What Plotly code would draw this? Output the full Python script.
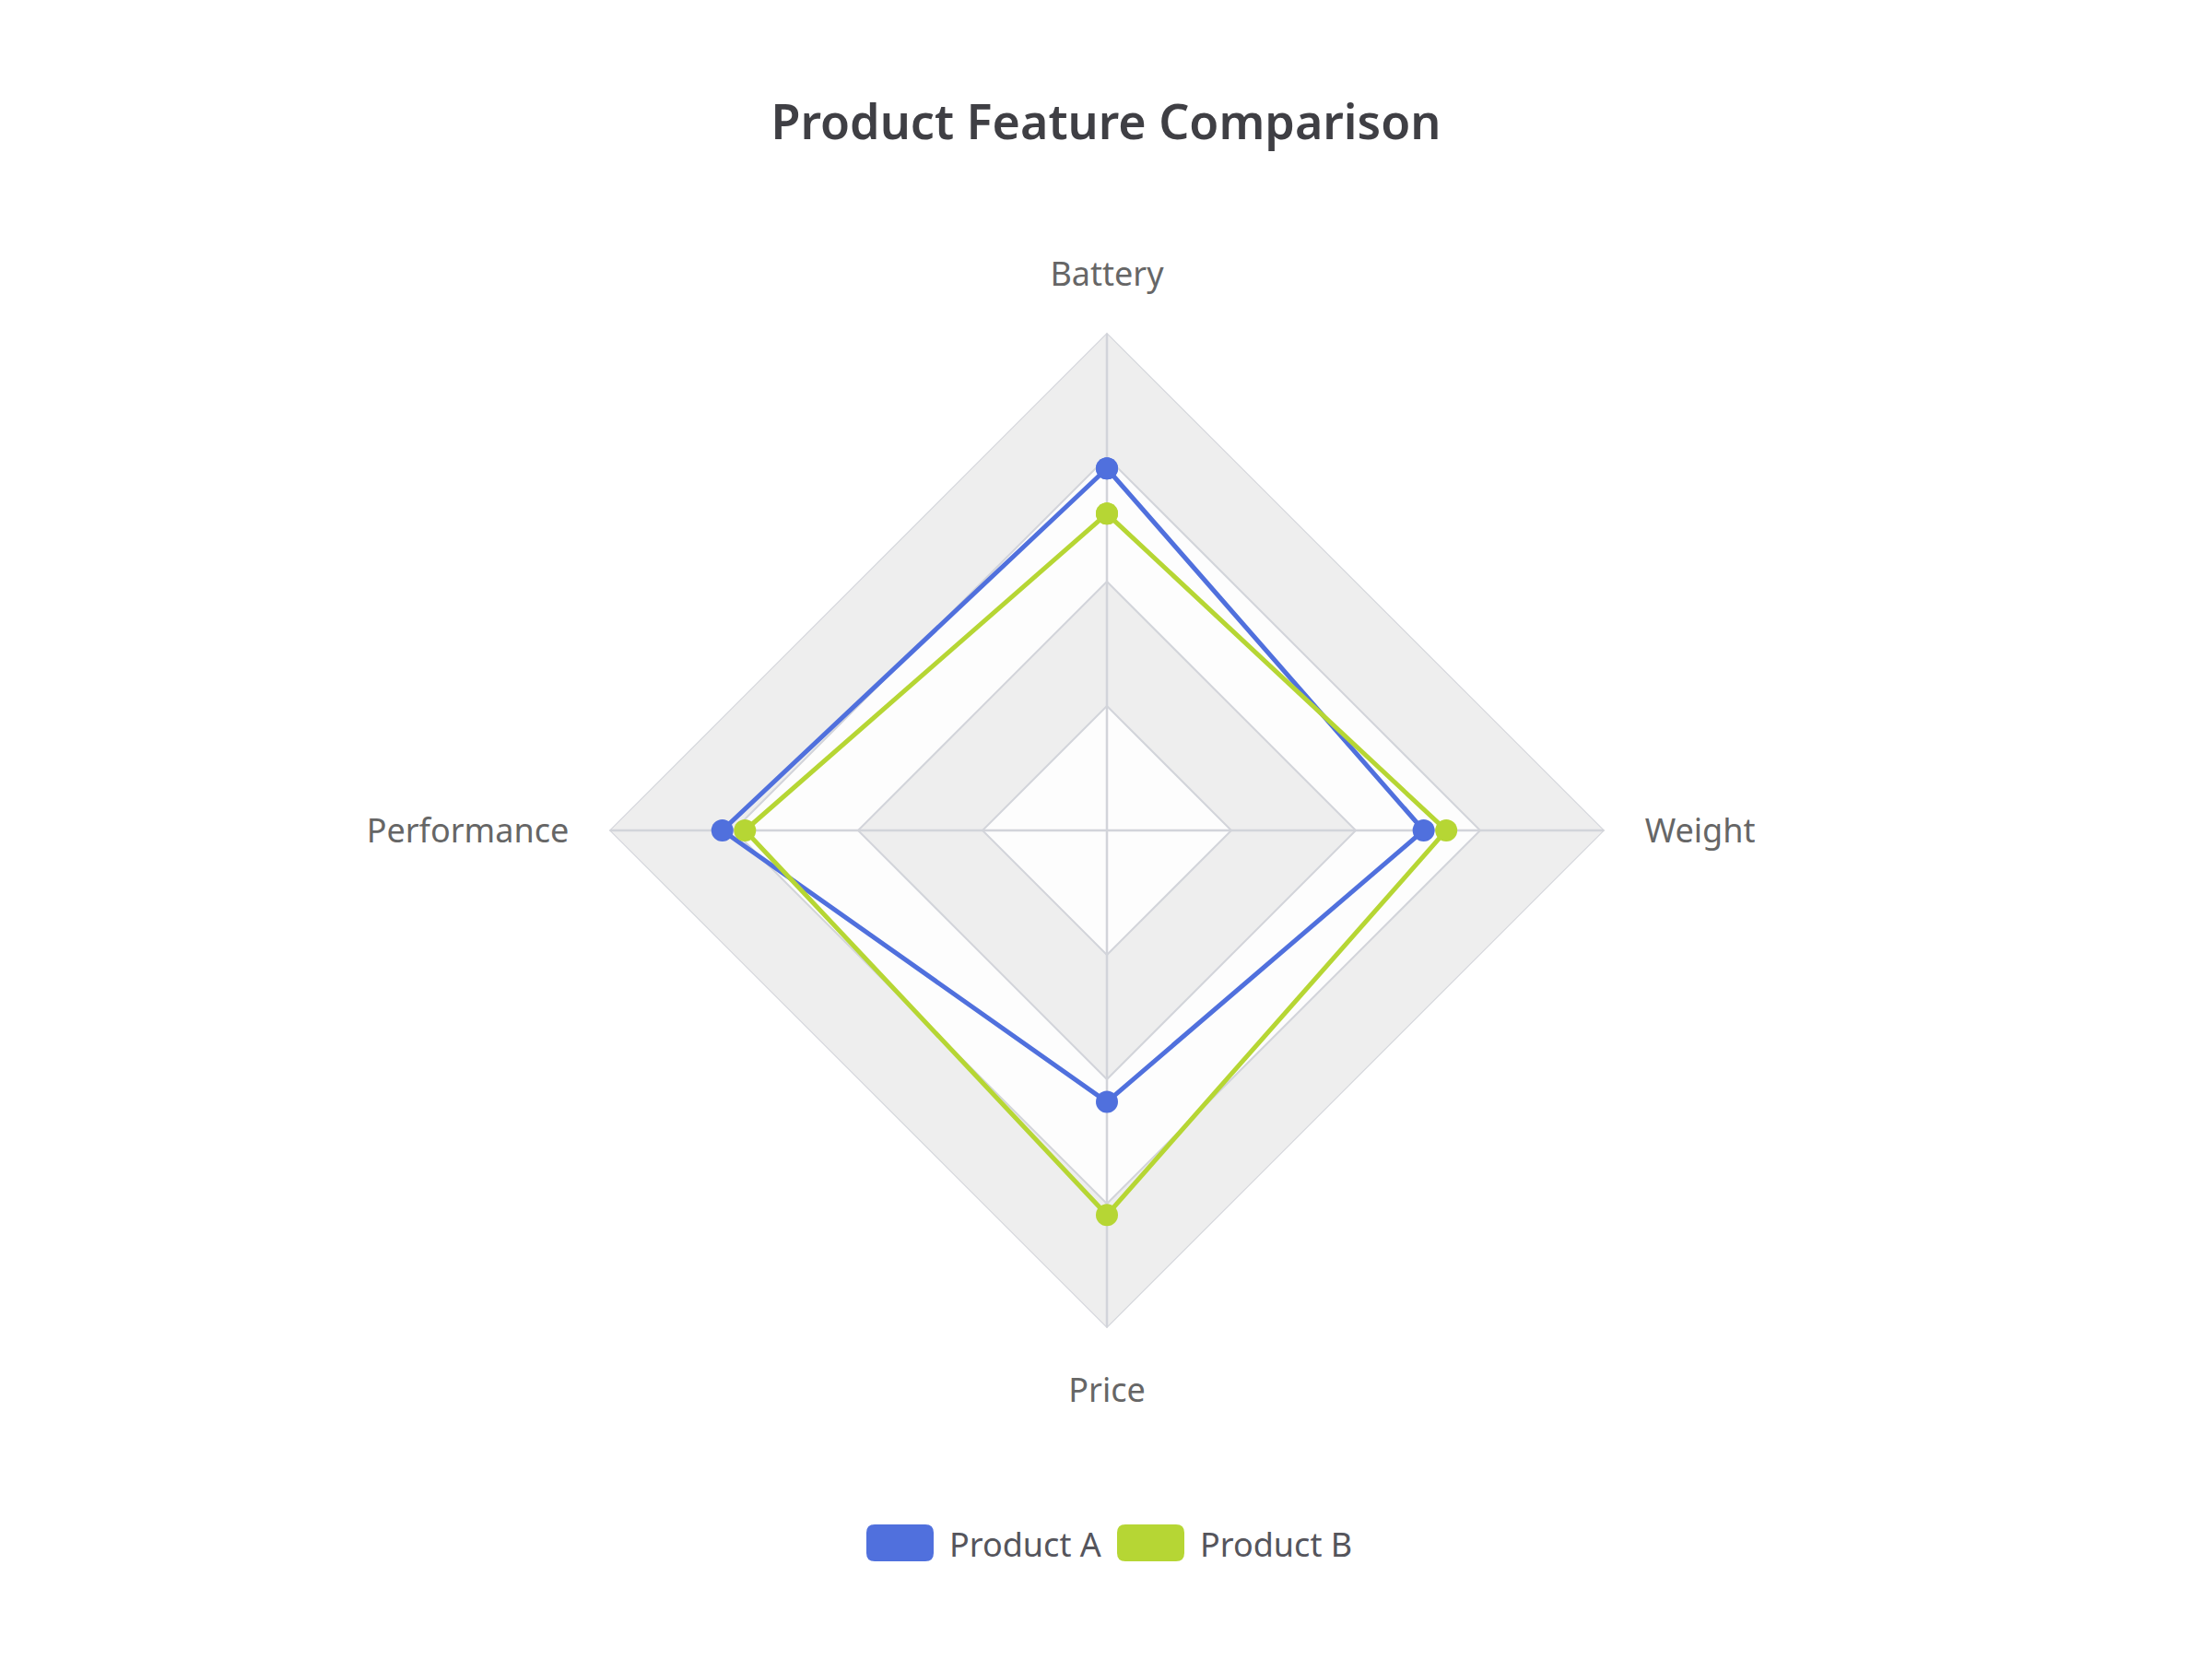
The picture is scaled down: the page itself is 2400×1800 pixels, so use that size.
import plotly.graph_objects as go

# ---- data ----
categories = ["Battery", "Performance", "Price", "Weight"]
product_a = [80, 85, 60, 70]
product_b = [70, 80, 85, 75]
series_names = ["Product A", "Product B"]
radial_max = 110
ring_levels = [110, 82.5, 55, 27.5]

# ---- styles ----
COLOR_A = "#5070dd"
COLOR_B = "#b6d634"
RING_FILLS = ["#eeeeee", "#fdfdfd", "#eeeeee", "#fdfdfd"]
GRID = "#d2d4da"
FONT = "Noto Sans"

closed_theta = categories + [categories[0]]

fig = go.Figure()

# split areas (alternating ring fills) with ring outlines
for lvl, col in zip(ring_levels, RING_FILLS):
    fig.add_trace(go.Scatterpolar(
        r=[lvl] * len(closed_theta), theta=closed_theta,
        mode="lines", fill="toself", fillcolor=col,
        line=dict(color=GRID, width=2),
        hoverinfo="skip", showlegend=False))

# spokes
for c in categories:
    fig.add_trace(go.Scatterpolar(
        r=[0, radial_max], theta=[c, c], mode="lines",
        line=dict(color=GRID, width=2.5),
        hoverinfo="skip", showlegend=False))

for name, vals, col in [(series_names[0], product_a, COLOR_A),
                        (series_names[1], product_b, COLOR_B)]:
    fig.add_trace(go.Scatterpolar(
        r=vals + [vals[0]], theta=closed_theta, name=name,
        mode="lines+markers",
        line=dict(color=col, width=5),
        marker=dict(color=col, size=24),
        showlegend=False))

fig.update_layout(
    width=2400, height=1800,
    paper_bgcolor="white", plot_bgcolor="white",
    margin=dict(l=0, r=0, t=0, b=0),
    title=dict(text="Product Feature Comparison", x=0.5, xanchor="center",
               y=1 - 133 / 1800, yanchor="middle",
               font=dict(family=FONT, size=52, color="#3f3f44", weight=600)),
    polar=dict(
        domain=dict(x=[661 / 2400, 1741 / 2400], y=[359 / 1800, 1439 / 1800]),
        gridshape="linear",
        bgcolor="rgba(0,0,0,0)",
        radialaxis=dict(range=[0, radial_max], showgrid=False, showline=False,
                        showticklabels=False, ticks=""),
        angularaxis=dict(type="category", categoryarray=categories,
                         rotation=90, direction="counterclockwise",
                         showgrid=False, showline=False,
                         ticks="outside", ticklen=36, tickcolor="rgba(0,0,0,0)",
                         tickfont=dict(family=FONT, size=36, color="#666666")),
    ),
)

# manual legend with rounded-rect icons
def rounded_rect(x0, y0, x1, y1, rx, ry):
    return (f"M{x0+rx},{y0} L{x1-rx},{y0} Q{x1},{y0} {x1},{y0+ry} L{x1},{y1-ry} "
            f"Q{x1},{y1} {x1-rx},{y1} L{x0+rx},{y1} Q{x0},{y1} {x0},{y1-ry} "
            f"L{x0},{y0+ry} Q{x0},{y0} {x0+rx},{y0} Z")

W, H = 2400, 1800
legend_items = [(series_names[0], COLOR_A, 940), (series_names[1], COLOR_B, 1212)]
for name, col, x0 in legend_items:
    y0p, y1p = 1654, 1694
    fig.add_shape(type="path", xref="paper", yref="paper",
                  path=rounded_rect(x0 / W, 1 - y1p / H, (x0 + 73) / W, 1 - y0p / H,
                                    9 / W, 9 / H),
                  fillcolor=col, line=dict(width=0))
    fig.add_annotation(x=(x0 + 88) / W, y=1 - 1675 / H, xref="paper", yref="paper",
                       text=name, showarrow=False, xanchor="left", yanchor="middle",
                       font=dict(family=FONT, size=36, color="#55555c"))

fig.write_html("out.html")
